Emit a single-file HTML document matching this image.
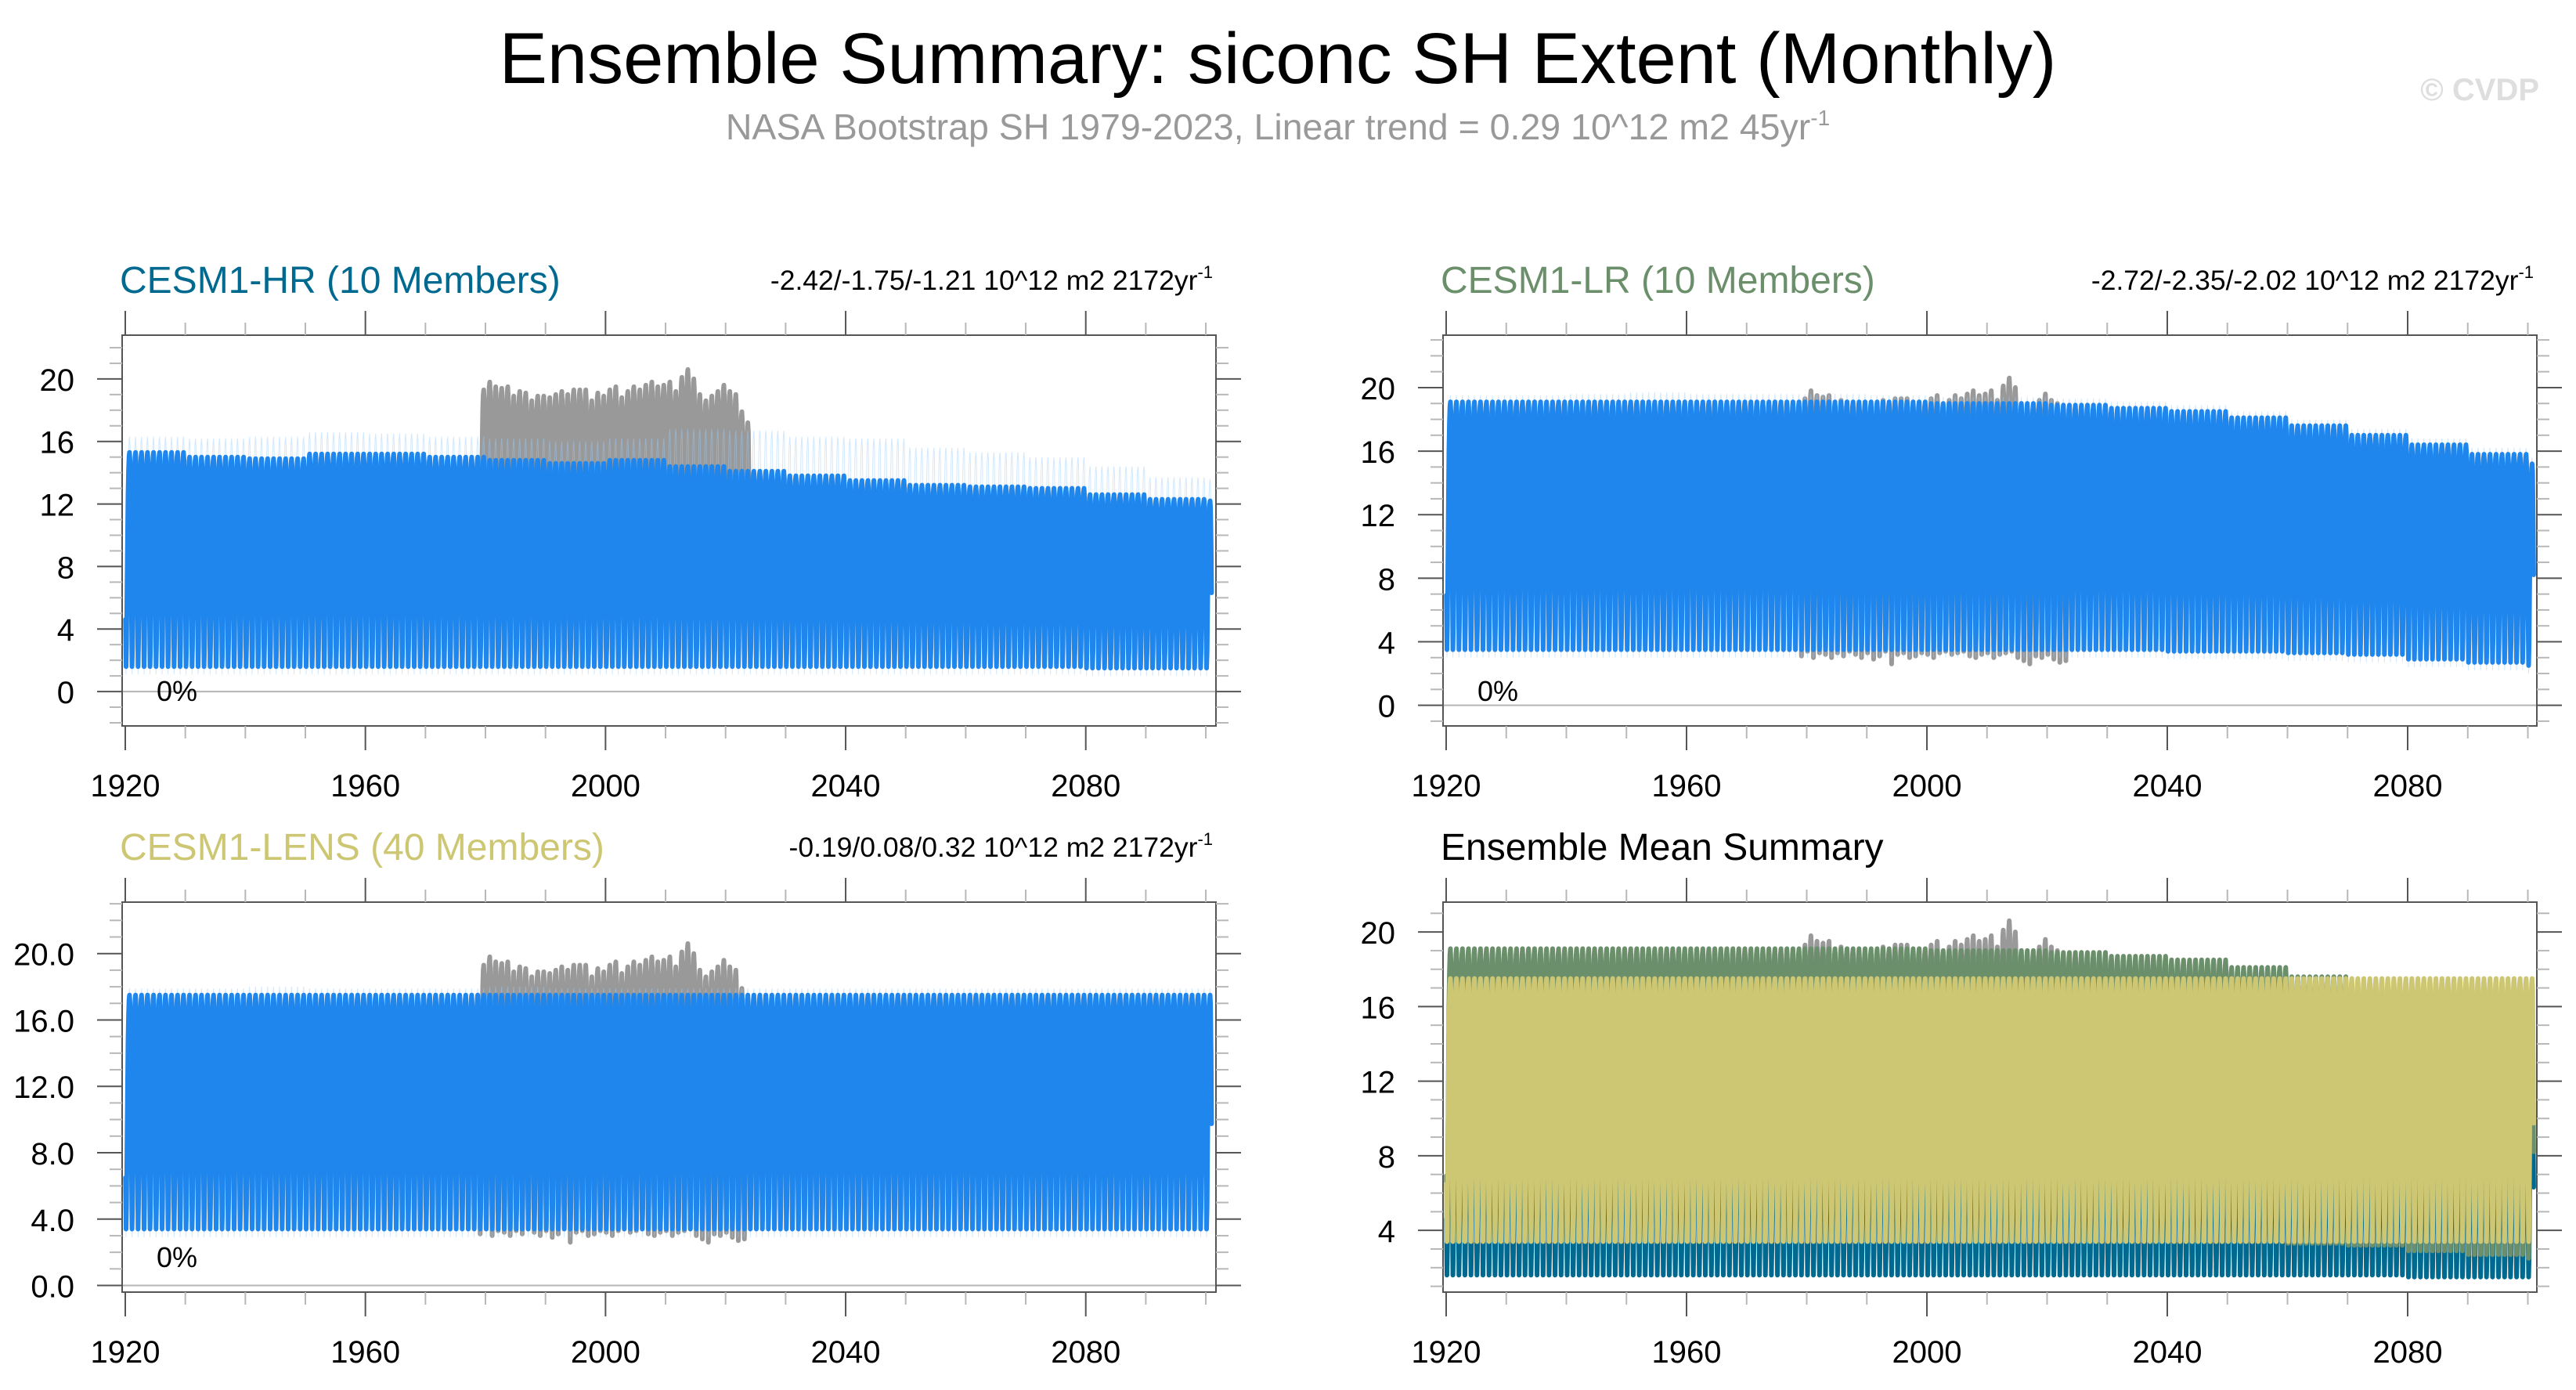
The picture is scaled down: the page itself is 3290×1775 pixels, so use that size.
<!DOCTYPE html>
<html><head><meta charset="utf-8"><title>Ensemble Summary: siconc SH Extent (Monthly)</title>
<style>
html,body{margin:0;padding:0;background:#fff;}
svg{display:block;font-family:"Liberation Sans",Arial,sans-serif;}
</style></head>
<body>
<svg id="chart" xmlns="http://www.w3.org/2000/svg" width="3290" height="1775">
<rect x="0" y="0" width="3290" height="1775" fill="#fff"/>
<text x="1632" y="106" font-size="92" text-anchor="middle" fill="#000">Ensemble Summary: siconc SH Extent (Monthly)</text>
<text x="1632" y="178" font-size="46.5" text-anchor="middle" fill="#999">NASA Bootstrap SH 1979-2023, Linear trend = 0.29 10^12 m2 45yr<tspan dy="-18" font-size="28">-1</tspan></text>
<text x="3243" y="128" font-size="40" font-weight="bold" text-anchor="end" fill="#dedede">© CVDP</text>
<g id="panels"></g>
</svg>
<script>
// ---------- data ----------
const decadeYears = [1920,1930,1940,1950,1960,1970,1980,1990,2000,2010,2020,2030,2040,2050,2060,2070,2080,2090,2100];
const hrMax   = [15.3,15.0,14.9,15.2,15.2,15.0,14.8,14.6,14.8,14.4,14.1,13.8,13.5,13.2,13.1,13.0,12.6,12.3,12.2];
const hrMin   = [1.6,1.6,1.6,1.6,1.6,1.6,1.6,1.6,1.6,1.6,1.6,1.6,1.6,1.6,1.6,1.6,1.5,1.5,1.5];
const hrSpike = [16.3,16.2,16.3,16.6,16.5,16.3,16.2,16.0,16.2,16.8,16.7,16.3,16.2,15.6,15.3,15.0,14.4,13.7,13.6];
const lrMax   = [19.1,19.1,19.1,19.1,19.1,19.1,19.1,19.1,19.0,19.0,18.9,18.7,18.5,18.1,17.6,17.0,16.4,15.8,15.2];
const lrMin   = [3.5,3.5,3.5,3.5,3.5,3.5,3.5,3.5,3.5,3.5,3.5,3.5,3.4,3.4,3.3,3.2,2.9,2.7,2.5];
const lrSpike = [19.5,19.5,19.6,19.7,19.6,19.6,19.6,19.5,19.4,19.4,19.3,19.1,18.9,18.5,18.0,17.4,16.8,16.2,15.6];
const lensMax = [17.5,17.5,17.5,17.5,17.5,17.5,17.5,17.5,17.5,17.5,17.5,17.5,17.5,17.5,17.5,17.5,17.5,17.5,17.5];
const lensMin = [3.4,3.4,3.4,3.4,3.4,3.4,3.4,3.4,3.4,3.4,3.4,3.4,3.4,3.4,3.4,3.4,3.4,3.4,3.4];
const lensSpike = [17.9,17.9,18.0,17.9,17.9,17.9,18.0,17.9,17.9,17.9,17.9,17.9,17.9,17.9,17.9,17.9,17.9,17.9,17.9];
const obsYears = [1979,1980,1981,1982,1983,1984,1985,1986,1987,1988,1989,1990,1991,1992,1993,1994,1995,1996,1997,1998,1999,2000,2001,2002,2003,2004,2005,2006,2007,2008,2009,2010,2011,2012,2013,2014,2015,2016,2017,2018,2019,2020,2021,2022,2023];
const obsMax = [19.3,19.8,19.5,19.4,19.5,18.9,19.2,19.1,18.6,18.9,18.9,18.8,19.0,19.2,19.0,19.3,19.3,19.3,18.6,19.1,18.9,19.3,19.5,18.8,19.2,19.5,19.3,19.6,19.8,19.5,19.6,19.8,19.2,20.1,20.6,20.0,19.0,18.6,18.9,19.2,19.6,19.2,19.0,17.9,17.2];
const obsMin = [3.1,3.4,3.0,3.3,3.2,3.0,3.3,3.1,3.4,3.2,3.0,3.3,2.9,3.1,3.4,2.6,3.2,3.3,3.0,3.1,3.3,3.2,3.0,3.3,3.4,3.2,3.3,3.4,3.1,3.0,3.2,3.3,3.0,3.2,3.3,3.4,3.0,2.8,2.6,3.1,3.0,3.2,2.9,2.7,2.8];
const seasonShape = [0.22,0.0,0.1,0.35,0.6,0.8,0.92,0.98,1.0,0.96,0.75,0.45];
const xTickLabels = [1920,1960,2000,2040,2080];
const yTicksA = [0,4,8,12,16,20];
const yTicksB = [4,8,12,16,20];

// ---------- drawing ----------
const NS = "http://www.w3.org/2000/svg";
const root = document.getElementById("panels");
function mk(tag, attrs, parent){
  const e = document.createElementNS(NS, tag);
  for (const k in attrs) e.setAttribute(k, attrs[k]);
  (parent||root).appendChild(e);
  return e;
}
function decadeVal(arr, yr){ return arr[Math.min(arr.length-1, Math.floor((yr - decadeYears[0]) / 10))]; }

function monthlyPath(xs, ys, years, maxFn, minFn){
  let d = "";
  for (const yr of years){
    const hi = maxFn(yr), lo = minFn(yr);
    for (let m = 0; m < 12; m++){
      const v = lo + (hi - lo) * seasonShape[m];
      d += (d ? "L" : "M") + xs(yr + (m + 0.5) / 12).toFixed(1) + "," + ys(v).toFixed(1);
    }
  }
  return d;
}

function panel(cfg){
  const g = mk("g", {});
  
  
  const xs = yr => cfg.x1920 + (yr - 1920) * cfg.pxYear;
  const ys = v => cfg.bottom - (v - cfg.yMin) / (cfg.yMax - cfg.yMin) * (cfg.bottom - cfg.top);
  const clipId = "clip-" + cfg.name;
  const cp = mk("clipPath", {id: clipId}, g);
  mk("rect", {x: cfg.left, y: cfg.top, width: cfg.right - cfg.left, height: cfg.bottom - cfg.top}, cp);
  const plot = mk("g", {"clip-path": "url(#" + clipId + ")"}, g);
  
  
  if (cfg.zeroLine){
    const zl = mk("line", {x1: cfg.left, x2: cfg.right, y1: ys(0), y2: ys(0), stroke: "#b5b5b5", "stroke-width": 2}, plot);
    
    
  }
  const allYears = [];
  for (let y = 1920; y <= 2100; y++) allYears.push(y);
  const od = monthlyPath(xs, ys, obsYears, y => obsMax[obsYears.indexOf(y)], y => obsMin[obsYears.indexOf(y)]);
  const op = mk("path", {d: od, fill: "none", stroke: "#999999", "stroke-width": 6, "stroke-linejoin": "round", "stroke-linecap": "round"}, plot);
  
  
  for (const s of cfg.series){
    if (s.spike){
      const sp = mk("path", {d: monthlyPath(xs, ys, allYears, y => decadeVal(s.spike, y), y => decadeVal(s.min, y) - 0.5), fill: "none", stroke: s.light, "stroke-width": 1, opacity: 0.45}, plot);
      
      
    }
    const p = mk("path", {d: monthlyPath(xs, ys, allYears, y => decadeVal(s.max, y), y => decadeVal(s.min, y)), fill: "none", stroke: s.color, "stroke-width": 6, "stroke-linejoin": "round", "stroke-linecap": "round"}, plot);
    
    
  }
  const fr = mk("rect", {x: cfg.left, y: cfg.top, width: cfg.right - cfg.left, height: cfg.bottom - cfg.top, fill: "none", stroke: "#555", "stroke-width": 2}, g);
  
  
  for (let yr = 1920; yr <= 2100; yr += 10){
    const major = (yr - 1920) % 40 === 0;
    const x = xs(yr), len = major ? 31 : 16, col = major ? "#555" : "#b8b8b8";
    const t1 = mk("line", {x1: x, x2: x, y1: cfg.top - len, y2: cfg.top, stroke: col, "stroke-width": 2}, g);
    
    
    const t2 = mk("line", {x1: x, x2: x, y1: cfg.bottom, y2: cfg.bottom + len, stroke: col, "stroke-width": 2}, g);
    
    
  }
  for (const lab of xTickLabels){
    const t = mk("text", {x: xs(lab), y: cfg.bottom + 90, "font-size": 40, "text-anchor": "middle", fill: "#000"}, g);
    t.textContent = lab;
    
    
  }
  for (let v = Math.ceil(cfg.yMin); v <= Math.floor(cfg.yMax); v++){
    const major = cfg.yTicks.includes(v);
    const y = ys(v), len = major ? 32 : 16, col = major ? "#555" : "#b8b8b8";
    const l1 = mk("line", {x1: cfg.left - len, x2: cfg.left, y1: y, y2: y, stroke: col, "stroke-width": 2}, g);
    
    
    const l2 = mk("line", {x1: cfg.right, x2: cfg.right + len, y1: y, y2: y, stroke: col, "stroke-width": 2}, g);
    
    
  }
  for (const v of cfg.yTicks){
    const t = mk("text", {x: cfg.left - 61, y: ys(v) + 15, "font-size": 40, "text-anchor": "end", fill: "#000"}, g);
    t.textContent = cfg.decimals ? v.toFixed(1) : String(v);
    
    
  }
  const tt = mk("text", {x: cfg.left - 3, y: cfg.titleY, "font-size": 48, fill: cfg.titleColor}, g);
  tt.textContent = cfg.title;
  
  
  if (cfg.trend){
    const tr = mk("text", {x: cfg.right - 4, y: cfg.titleY - 4, "font-size": 35.5, "text-anchor": "end", fill: "#000"}, g);
    
    
    tr.appendChild(document.createTextNode(cfg.trend));
    const sup = mk("tspan", {dy: -15, "font-size": 22}, tr);
    sup.textContent = "-1";
  }
  if (cfg.pct){
    const pc = mk("text", {x: cfg.left + 44, y: cfg.pctY, "font-size": 36, fill: "#000"}, g);
    pc.textContent = "0%";
    
    
  }
}

const BLUE = "#1e86ec", LIGHT = "#9ccdfa";
panel({name:"panel-cesm1-hr", left:156, right:1553, top:428, bottom:927, x1920:160, pxYear:7.667, yMin:-2.2, yMax:22.8,
  yTicks:yTicksA, zeroLine:true, titleY:374, title:"CESM1-HR (10 Members)", titleColor:"#00698f",
  trend:"-2.42/-1.75/-1.21 10^12 m2 2172yr", pct:true, pctY:895,
  series:[{name:"cesm1-hr", max:hrMax, min:hrMin, spike:hrSpike, color:BLUE, light:LIGHT}]});
panel({name:"panel-cesm1-lr", left:1843, right:3240, top:428, bottom:927, x1920:1847, pxYear:7.675, yMin:-1.3, yMax:23.3,
  yTicks:yTicksA, zeroLine:true, titleY:374, title:"CESM1-LR (10 Members)", titleColor:"#6b8f6b",
  trend:"-2.72/-2.35/-2.02 10^12 m2 2172yr", pct:true, pctY:895,
  series:[{name:"cesm1-lr", max:lrMax, min:lrMin, spike:lrSpike, color:BLUE, light:LIGHT}]});
panel({name:"panel-cesm1-lens", left:156, right:1553, top:1152, bottom:1650, x1920:160, pxYear:7.667, yMin:-0.4, yMax:23.1,
  yTicks:yTicksA, decimals:true, zeroLine:true, titleY:1098, title:"CESM1-LENS (40 Members)", titleColor:"#cdc673",
  trend:"-0.19/0.08/0.32 10^12 m2 2172yr", pct:true, pctY:1618,
  series:[{name:"cesm1-lens", max:lensMax, min:lensMin, spike:lensSpike, color:BLUE, light:LIGHT}]});
panel({name:"panel-ensemble-mean", left:1843, right:3240, top:1152, bottom:1650, x1920:1847, pxYear:7.675, yMin:0.69, yMax:21.6,
  yTicks:yTicksB, zeroLine:false, titleY:1098, title:"Ensemble Mean Summary", titleColor:"#000",
  series:[{name:"mean-cesm1-hr", max:hrMax, min:hrMin, color:"#00698f"},
          {name:"mean-cesm1-lr", max:lrMax, min:lrMin, color:"#6b8f6b"},
          {name:"mean-cesm1-lens", max:lensMax, min:lensMin, color:"#cdc673"}]});
</script>
</body></html>
